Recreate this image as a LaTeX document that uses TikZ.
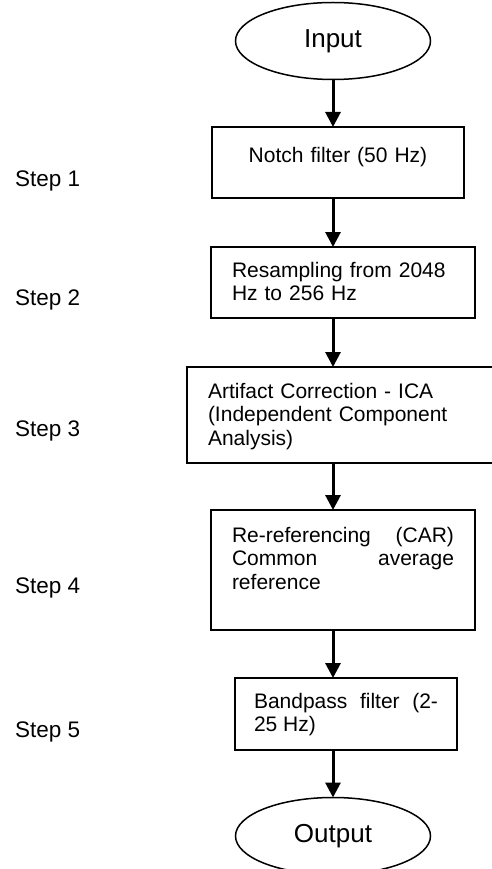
\documentclass[tikz,border=0pt]{standalone}
\usepackage{fontspec}
\setmainfont{Liberation Sans}
\usetikzlibrary{shapes.geometric,arrows.meta}
\tolerance=10000
\hbadness=10000

\begin{document}
\begin{tikzpicture}
  [x=1pt,y=-1pt,
   every node/.style={outer sep=0pt},
   terminal/.style={ellipse,draw,line width=1.5pt,minimum width=195pt,minimum height=77pt,
     inner sep=0pt,font=\fontsize{26}{28}\selectfont},
   stepbox/.style={draw,line width=1.8pt,anchor=north west,inner ysep=0pt,inner xsep=21pt,
     font=\fontsize{21}{23.5}\selectfont},
   steplabel/.style={anchor=base west,inner sep=0pt,font=\fontsize{22.5}{24}\selectfont},
   flow/.style={line width=3pt,-{Triangle[width=15pt,length=15pt]}}]
  \useasboundingbox (0,0) rectangle (491,869);
  \coordinate (spine) at (333,0);

  \node[terminal] (input) at (333,41) {Input};

  \node[stepbox,text width=212pt,inner xsep=20pt,align=center,text height=36pt,text depth=35pt]
    (notch) at (212,127) {Notch filter (50 Hz)};
  \node[stepbox,text width=222pt,align=left,text height=30pt,text depth=41pt]
    (resamp) at (211,247) {Resampling from 2048\\Hz to 256 Hz};
  \node[stepbox,text width=271pt,align=left,text height=31pt,text depth=65pt]
    (ica) at (187,367) {Artifact Correction - ICA\\(Independent Component\\Analysis)};
  \node[stepbox,text width=222pt,align=justify,text height=32pt,text depth=88pt]
    (reref) at (211,510) {Re-referencing (CAR)\linebreak Common average\linebreak reference};
  \node[stepbox,text width=184pt,inner xsep=19pt,align=justify,text height=30pt,text depth=42pt]
    (band) at (235,678) {Bandpass filter (2-\linebreak 25 Hz)};

  \node[terminal] (output) at (333,836) {Output};

  % step labels on the left
  \foreach \i/\y in {1/186,2/305,3/436,4/593,5/737}
    \node[steplabel] (step\i) at (15,\y) {Step \i};

  \draw[flow] (input.south) -- (spine |- notch.north);
  \draw[flow] (spine |- notch.south) -- (spine |- resamp.north);
  \draw[flow] (spine |- resamp.south) -- (spine |- ica.north);
  \draw[flow] (spine |- ica.south) -- (spine |- reref.north);
  \draw[flow] (spine |- reref.south) -- (spine |- band.north);
  \draw[flow] (spine |- band.south) -- (output.north);
\end{tikzpicture}
\end{document}
